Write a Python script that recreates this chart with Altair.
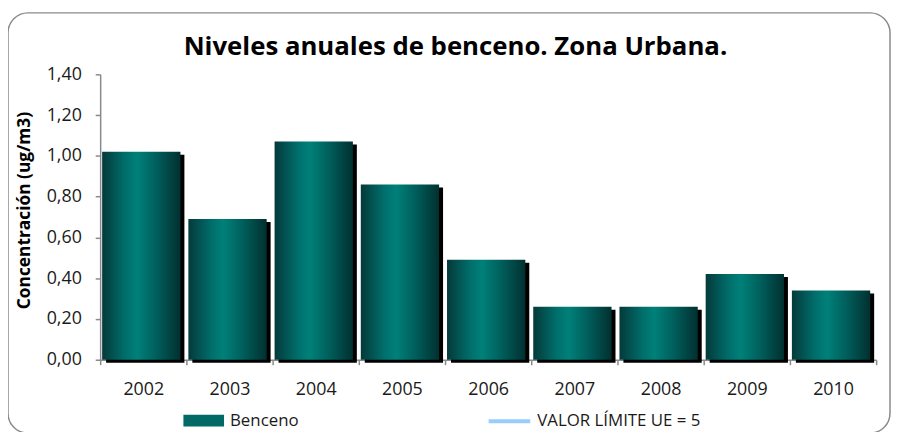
import altair as alt
import pandas as pd

# ---- data ----
years = ["2002", "2003", "2004", "2005", "2006", "2007", "2008", "2009", "2010"]
benceno = [1.02, 0.69, 1.07, 0.86, 0.49, 0.26, 0.26, 0.42, 0.34]
y_ticks = [0.0, 0.2, 0.4, 0.6, 0.8, 1.0, 1.2, 1.4]
series_label = "Benceno"
limit_label = "VALOR LÍMITE UE = 5"
limit_value = [5]
title_text = "Niveles anuales de benceno. Zona Urbana."
y_title = "Concentración (ug/m3)"

df = pd.DataFrame({"year": years, "value": benceno, "series": [series_label] * len(years)})
limit_df = pd.DataFrame({"limit": limit_value, "name": [limit_label]})
frame_df = pd.DataFrame({"f": [0]})

FONT = "Open Sans"
AXIS_GRAY = "#8a8a8a"

x_enc = alt.X(
    "year:N",
    sort=years,
    scale=alt.Scale(paddingInner=0, paddingOuter=0),
    axis=alt.Axis(
        title=None, labelAngle=0, tickBand="extent", tickSize=5,
        labelPadding=16, labelFontSize=18, labelFont=FONT, labelColor="#1a1a1a",
        domainColor=AXIS_GRAY, tickColor=AXIS_GRAY, domainWidth=1.5, tickWidth=1.5,
        grid=False,
    ),
)
y_enc = alt.Y(
    "value:Q",
    scale=alt.Scale(domain=[0, 1.4], nice=False, zero=True),
    axis=alt.Axis(
        title=y_title, values=y_ticks,
        labelExpr="replace(format(datum.value, '.2f'), '.', ',')",
        tickSize=5, labelPadding=14, labelFontSize=18, labelFont=FONT, labelColor="#1a1a1a",
        domainColor=AXIS_GRAY, tickColor=AXIS_GRAY, domainWidth=1.5, tickWidth=1.5,
        grid=False, titleFont=FONT, titleFontSize=17.5, titleFontWeight="bold",
        titleColor="#000000", titlePadding=13, titleY=137,
    ),
)

base = alt.Chart(df)

shadow = base.mark_bar(color="black", size=79, xOffset=2, yOffset=3, y2Offset=0).encode(
    x=x_enc, y=y_enc
)

grad = alt.LinearGradient(
    gradient="linear",
    stops=[
        alt.GradientStop(color="#043a3a", offset=0),
        alt.GradientStop(color="#006f6c", offset=0.3),
        alt.GradientStop(color="#008079", offset=0.45),
        alt.GradientStop(color="#005e5b", offset=0.7),
        alt.GradientStop(color="#013030", offset=1),
    ],
    x1=0, x2=1, y1=0, y2=0,
)
bars = base.mark_bar(color=grad, size=79, xOffset=-2).encode(x=x_enc, y=y_enc)

legend_bar = base.mark_bar(size=79).encode(
    x=x_enc,
    y=alt.datum(0),
    fill=alt.Fill(
        "series:N",
        scale=alt.Scale(domain=[series_label], range=["#016a67"]),
        legend=alt.Legend(
            title=None, orient="none", legendX=84, legendY=329,
            symbolType="M-1,-0.29H1V0.29H-1Z", symbolSize=1681, symbolStrokeWidth=0,
            labelFont=FONT, labelFontSize=17, labelColor="#1a1a1a", labelOffset=6,
            labelLimit=400,
        ),
    ),
)

limit_rule = alt.Chart(limit_df).mark_rule(strokeWidth=4, clip=True).encode(
    y=alt.Y("limit:Q"),
    stroke=alt.Stroke(
        "name:N",
        scale=alt.Scale(domain=[limit_label], range=["#99ccff"]),
        legend=alt.Legend(
            title=None, orient="none", legendX=390, legendY=327,
            symbolType="stroke", symbolSize=1764, symbolStrokeWidth=4,
            labelFont=FONT, labelFontSize=17, labelColor="#1a1a1a", labelOffset=5,
            labelLimit=400,
        ),
    ),
)

frame = alt.Chart(frame_df).mark_rect(
    cornerRadius=20, fillOpacity=0, stroke="#8a8a8a", strokeWidth=1.5
).encode(
    x=alt.value(-93), x2=alt.value(797), y=alt.value(-62), y2=alt.value(362)
)

chart = alt.layer(frame, shadow, bars, legend_bar, limit_rule).properties(
    width=783,
    height=288,
    padding={"left": 93, "top": 65, "right": 15, "bottom": 71},
    autosize=alt.AutoSizeParams(type="none"),
    title=alt.TitleParams(
        text=title_text, font=FONT, fontSize=26, fontWeight="bold", color="#000000",
        anchor="middle", frame="group", baseline="alphabetic", offset=17, dx=-33, dy=86,
    ),
).configure_view(stroke=None)

chart.save("out.html", embed_options={"renderer": "svg", "actions": False})
